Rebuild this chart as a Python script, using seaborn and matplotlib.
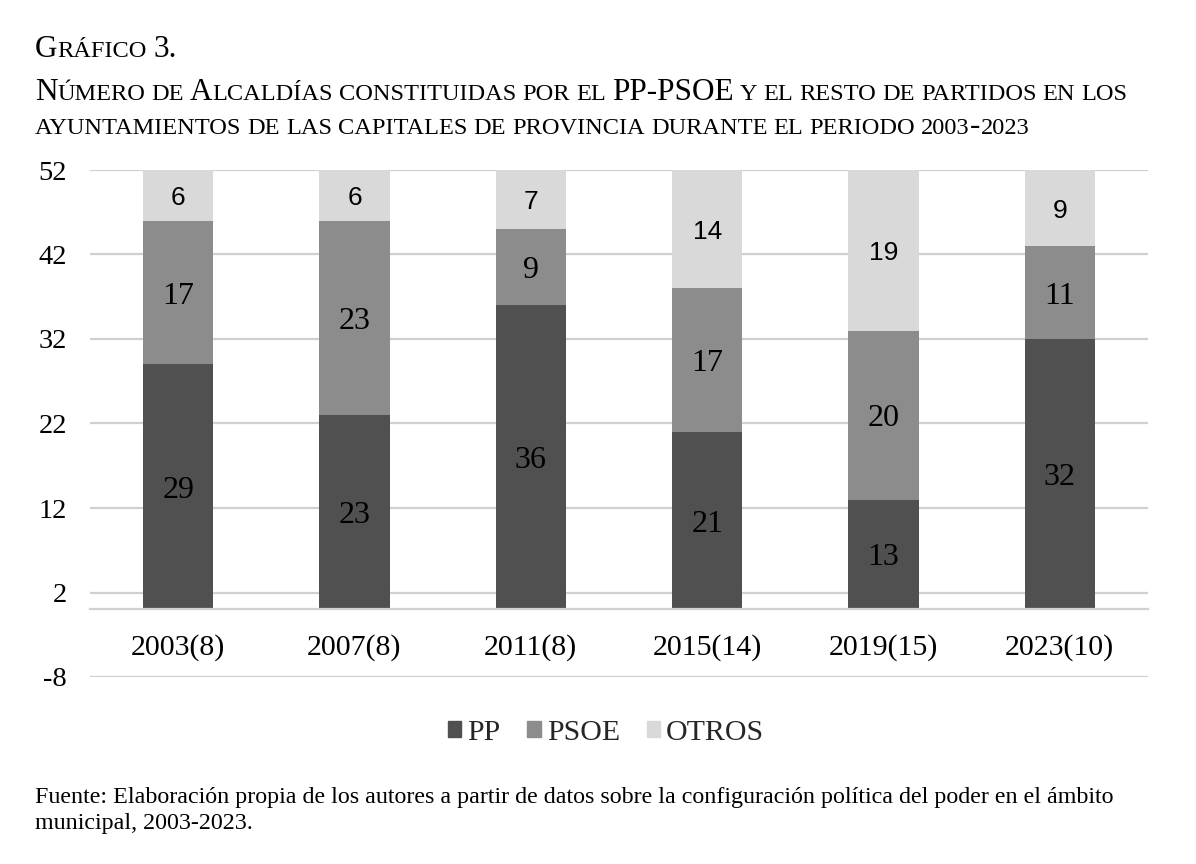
import matplotlib
matplotlib.use("Agg")
import matplotlib.pyplot as plt
import seaborn as sns
import pandas as pd
from matplotlib.patches import Patch

# data
years = ["2003(8)", "2007(8)", "2011(8)", "2015(14)", "2019(15)", "2023(10)"]
pp = [29, 23, 36, 21, 13, 32]
psoe = [17, 23, 9, 17, 20, 11]
otros = [6, 6, 7, 14, 19, 9]
y_ticks = [-8, 2, 12, 22, 32, 42, 52]

colors = {"PP": "#505050", "PSOE": "#8c8c8c", "OTROS": "#d9d9d9"}
SERIF = "Liberation Serif"
SANS = "Liberation Sans"
GRID = "#d0d0d0"

sns.set_theme(style="white")
plt.rcParams["font.family"] = [SERIF, "DejaVu Serif"]
plt.rcParams["axes.unicode_minus"] = False

df = pd.DataFrame({"year": years, "PP": pp, "PSOE": psoe, "OTROS": otros})
df["pp_psoe"] = df["PP"] + df["PSOE"]
df["total"] = df["pp_psoe"] + df["OTROS"]

W, H = 1196, 864
fig = plt.figure(figsize=(W / 100, H / 100), dpi=100)
ax = fig.add_axes([90 / W, 1 - 677 / H, (1148 - 90) / W, (677 - 170) / H])

# stacked bars: draw cumulative totals from the top down
for col, c in [("total", colors["OTROS"]), ("pp_psoe", colors["PSOE"]), ("PP", colors["PP"])]:
    sns.barplot(data=df, x="year", y=col, color=c, width=0.4, saturation=1,
                linewidth=0, ax=ax, zorder=2)

ax.set_xlim(-0.5, 5.5)
ax.set_ylim(-8, 52)
ax.set_yticks(y_ticks)
ax.set_xlabel("")
ax.set_ylabel("")
ax.yaxis.grid(True, color=GRID, lw=1.6)
ax.set_axisbelow(True)
for s in ["left", "right", "top"]:
    ax.spines[s].set_visible(False)
ax.spines["bottom"].set_position(("data", 0))
ax.spines["bottom"].set_color(GRID)
ax.spines["bottom"].set_linewidth(1.6)
ax.tick_params(axis="y", length=0, pad=16.5, labelsize=20.5, labelcolor="black")
ax.tick_params(axis="x", length=0, pad=17.5, labelsize=21.5, labelcolor="black")

# segment labels
for i in range(len(years)):
    ax.text(i, pp[i] / 2, str(pp[i]), ha="center", va="center_baseline",
            fontsize=23, family=SERIF, color="black", zorder=3)
    ax.text(i, pp[i] + psoe[i] / 2, str(psoe[i]), ha="center", va="center_baseline",
            fontsize=23, family=SERIF, color="black", zorder=3)
    ax.text(i, pp[i] + psoe[i] + otros[i] / 2, str(otros[i]), ha="center",
            va="center_baseline", fontsize=19, family=SANS, color="black", zorder=3)

handles = [Patch(color=colors[k]) for k in ["PP", "PSOE", "OTROS"]]
fig.legend(handles, ["PP", "PSOE", "OTROS"], loc="center", bbox_to_anchor=(606 / W, 1 - 733 / H),
           ncol=3, frameon=False, fontsize=21.5, handlelength=0.45, handleheight=0.45,
           handletextpad=0.2, columnspacing=0.9)


def small_caps(x, y, text, size, ratio=0.78, small_digits=False):
    # fake small caps: lowercase letters drawn as capitals at a smaller size
    r = fig.canvas.get_renderer()
    a = fig.text(0, 0, "x x", fontsize=size * ratio)
    b = fig.text(0, 0, "xx", fontsize=size * ratio)
    space = a.get_window_extent(r).width - b.get_window_extent(r).width
    a.remove()
    b.remove()
    for word in text.split(" "):
        runs = []
        for ch in word:
            small = ch.islower() or (small_digits and ch.isdigit())
            if runs and runs[-1][1] == small:
                runs[-1][0] += ch
            else:
                runs.append([ch, small])
        for chunk, small in runs:
            t = fig.text(x / W, 1 - y / H, chunk.upper() if small else chunk,
                         fontsize=size * ratio if small else size, va="baseline", ha="left",
                         color="black")
            x += t.get_window_extent(r).width
        x += space


small_caps(35, 57, "Gráfico 3.", 22.5)
small_caps(35, 100, "Número de Alcaldías constituidas por el PP-PSOE y el resto de partidos en los", 22.5)
small_caps(35, 134, "ayuntamientos de las capitales de provincia durante el periodo 2003-2023", 22.5,
           small_digits=True)

fig.text(35 / W, 1 - 803 / H,
         "Fuente: Elaboración propia de los autores a partir de datos sobre la configuración política del poder en el ámbito",
         fontsize=17.3, va="baseline", ha="left", color="black")
fig.text(35 / W, 1 - 829 / H, "municipal, 2003-2023.",
         fontsize=17.3, va="baseline", ha="left", color="black")

fig.savefig("out.png", dpi=100)
